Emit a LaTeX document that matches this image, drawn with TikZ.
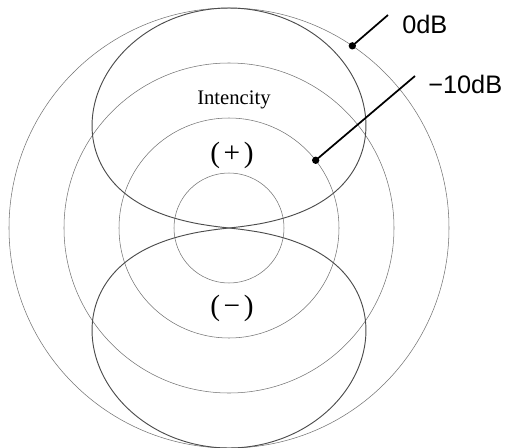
\documentclass[tikz,border=0pt]{standalone}
\usepackage{fontspec}
\setmainfont{Liberation Serif}
\newfontfamily\dbfont{Liberation Sans}
\usepackage{tikz}

\begin{document}
\begin{tikzpicture}[x=0.75pt, y=0.75pt,
    ring/.style={black!55, line width=0.4pt},
    lobe/.style={black!70, line width=0.7pt},
    lead/.style={black, line width=1.3pt},
    dot/.style={circle, fill=black, inner sep=0pt, minimum size=5.5pt},
    dblabel/.style={font=\dbfont\fontsize{19}{22}\selectfont, anchor=west, inner sep=0pt},
    sign/.style={font=\fontsize{22}{24}\selectfont}]

\useasboundingbox (-229,-219) rectangle (277,228);

% Rings, 5 dB apart
\foreach \r in {55,110,165,220} {
    \draw[ring] (0,0) circle (\r);
}

% Lobes (0 dB at outer ring, -20 dB at centre)
\draw[lobe] plot[domain=-84.26:84.26, samples=241, smooth]
    ({220*(1+log10(cos(\x)))*sin(\x)}, {220*(1+log10(cos(\x)))*cos(\x)});
\draw[lobe] plot[domain=-84.26:84.26, samples=241, smooth]
    ({220*(1+log10(cos(\x)))*sin(\x)}, {-220*(1+log10(cos(\x)))*cos(\x)});

% Level markers
\node[dot] at (55.9:220) (d0) {};
\coordinate (e0) at (159,213);
\draw[lead] (d0.center) -- (e0);
\node[dblabel] at (173,204) (l0) {0dB};

\node[dot] at (38:110) (d10) {};
\coordinate (e10) at (186,152);
\draw[lead] (d10.center) -- (e10);
\node[dblabel] at (199,144) (l10) {−10dB};

% Texts
\node at (5,128) (intens) {\fontsize{15.5}{18}\selectfont Intencity};
\node[sign] at (3,73) (plus) {(\hspace{0.12em}+\hspace{0.12em})};
\node[sign] at (3,-80) (minus) {(\hspace{0.12em}−\hspace{0.12em})};
\end{tikzpicture}
\end{document}
